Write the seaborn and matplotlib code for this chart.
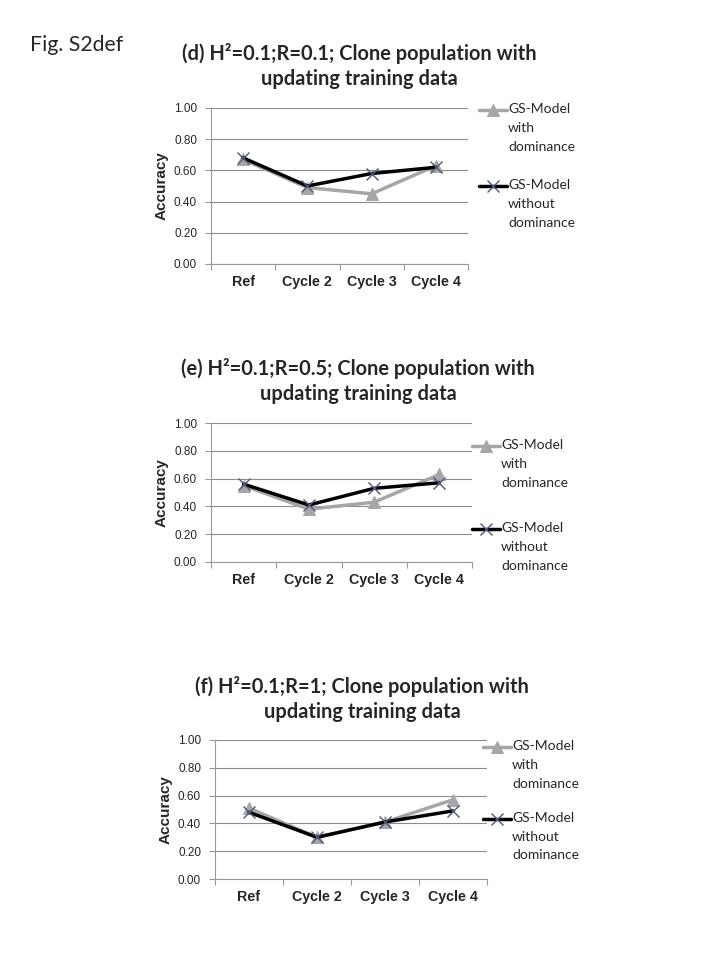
import pandas as pd
import matplotlib.pyplot as plt
import seaborn as sns
from matplotlib.ticker import FixedLocator

cycles = ['Ref', 'Cycle 2', 'Cycle 3', 'Cycle 4']
series_names = ['GS-Model\nwith\ndominance', 'GS-Model\nwithout\ndominance']

# accuracy, one list per panel and model
d_with = [0.67, 0.49, 0.45, 0.63]
d_without = [0.68, 0.50, 0.58, 0.62]
e_with = [0.55, 0.38, 0.43, 0.63]
e_without = [0.56, 0.41, 0.53, 0.57]
f_with = [0.51, 0.30, 0.41, 0.57]
f_without = [0.48, 0.30, 0.41, 0.49]

titles = [
    '(d) H\u00b2=0.1;R=0.1; Clone population with\nupdating training data',
    '(e) H\u00b2=0.1;R=0.5; Clone population with\nupdating training data',
    '(f) H\u00b2=0.1;R=1; Clone population with\nupdating training data',
]

panels = [(d_with, d_without), (e_with, e_without), (f_with, f_without)]

sns.set_theme(style='white')
plt.rcParams['font.family'] = ['Liberation Sans', 'DejaVu Sans']

fig = plt.figure(figsize=(7.2, 9.6), dpi=100)
fig.text(30 / 720, 1 - 45 / 960, 'Fig. S2def', fontsize=15.3, family='Lato',
         va='center', ha='left')

# layout in pixels
boxes = [(211, 468, 108, 264), (211, 472, 423, 562), (215, 487, 740, 879)]
title_xy = [(359, 66), (358, 381), (362, 699)]
legend_pos = [(479, 103), (472, 439), (483, 740)]
legend_gap = [1.9, 2.4, 1.57]

for i, ((w, wo), (l, r, t, b)) in enumerate(zip(panels, boxes)):
    df = pd.DataFrame({'pos': range(len(cycles)), 'with': w, 'without': wo})
    ax = fig.add_axes([l / 720, 1 - b / 960, (r - l) / 720, (b - t) / 960])
    sns.lineplot(data=df, x='pos', y='with', color='#A6A6A6', marker='^',
                 markersize=8, markeredgecolor='#A6A6A6', linewidth=2.5,
                 label=series_names[0], ax=ax)
    sns.lineplot(data=df, x='pos', y='without', color='#000000', marker='x',
                 markersize=8, markeredgecolor='#505878', markeredgewidth=1.0,
                 linewidth=2.5, label=series_names[1], ax=ax)

    ax.set_xlim(-0.5, len(cycles) - 0.5)
    ax.set_ylim(0, 1.0)
    ax.set_yticks([0, 0.2, 0.4, 0.6, 0.8, 1.0])
    ax.set_yticklabels([f'{v:.2f}' for v in [0, 0.2, 0.4, 0.6, 0.8, 1.0]], fontsize=8.5)
    ax.set_xticks(range(len(cycles)))
    ax.set_xticklabels(cycles, fontsize=10.3, fontweight='bold', va='baseline')
    ax.tick_params(axis='x', length=0, pad=15.7)
    ax.xaxis.set_minor_locator(FixedLocator([k - 0.5 for k in range(len(cycles) + 1)]))
    ax.tick_params(axis='x', which='minor', length=4, color='#999999', width=0.8,
                   bottom=True)
    ax.tick_params(axis='y', length=4, color='#999999', width=0.8, left=True, pad=6)
    ax.grid(axis='y', color='#8C8C8C', linewidth=0.8)
    ax.set_axisbelow(True)
    for side in ['top', 'right']:
        ax.spines[side].set_visible(False)
    for side in ['left', 'bottom']:
        ax.spines[side].set_color('#999999')
        ax.spines[side].set_linewidth(0.8)
    ax.set_xlabel('')
    ax.set_ylabel('Accuracy', fontsize=11, fontweight='bold', labelpad=4)

    lx, ly = legend_pos[i]
    leg = ax.legend(loc='upper left', bbox_to_anchor=(lx / 720, 1 - ly / 960),
                    bbox_transform=fig.transFigure, frameon=False,
                    prop={'family': 'Lato', 'size': 10}, handlelength=2.0,
                    handletextpad=0.1, labelspacing=legend_gap[i], borderpad=0,
                    borderaxespad=0)
    for txt in leg.get_texts():
        txt.set_linespacing(1.69)
    # put the key next to the first line of each label
    for h in leg.legend_handles:
        h.set_ydata(h.get_ydata() + 12.96)

    cx, cy = title_xy[i]
    fig.text(cx / 720, 1 - cy / 960, titles[i], ha='center',
             va='center', family='Lato', fontweight='bold', fontsize=14.4,
             linespacing=1.33)

plt.savefig('out.png', dpi=100)
